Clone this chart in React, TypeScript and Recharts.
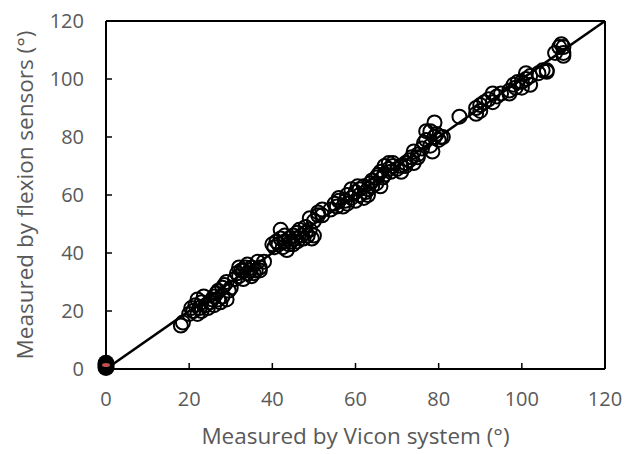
import React from 'react';
import { ScatterChart, Scatter, XAxis, YAxis, ReferenceLine } from 'recharts';

const axisTicks = [0, 20, 40, 60, 80, 100, 120];

const viconValues = [
  18, 18.5, 20, 20.5, 21, 21.5, 22, 22, 22.5, 23, 23, 23.5, 24, 24.5, 25, 25.5, 26, 26, 26.5, 27, 27, 27.5, 28, 28, 28.5, 29, 29, 29.5, 30,
  31, 31.5, 32, 32, 32.5, 33, 33, 33.5, 34, 34, 34.5, 35, 35, 35.5, 36, 36.5, 37, 37, 38,
  40, 40.5, 41, 41.5, 42, 42, 42.5, 43, 43, 43.5, 44, 44, 44.5, 45, 45, 45.5, 46, 46, 46.5, 47, 47.5, 48, 48, 48.5, 49, 49, 49.5, 50, 50, 51, 51, 52, 52,
  54, 55, 55.5, 56, 56, 57, 57.5, 58, 58, 59, 59, 60, 60, 60.5, 61, 61, 62, 62, 62.5, 63, 63, 63.5, 64, 64, 65, 65, 65.5, 66, 66, 66.5, 67, 67, 68, 68, 68.5, 69, 69, 70, 71, 71, 72, 72, 73, 73.5, 74, 74, 75, 75,
  76, 76.5, 77, 77, 78, 78, 78.5, 79, 79, 79.5, 80, 80.5, 81,
  85,
  89, 89, 90, 90, 91, 92, 93, 93, 94, 95,
  97, 97, 98, 98.5, 99, 100, 100, 101, 101, 102, 102,
  104, 105, 106, 106,
  108, 109, 109.5, 110, 110, 110,
];

const sensorValues = [
  15, 16, 19, 21, 20, 22, 19, 24, 21, 20, 23, 25, 22, 21, 23, 24, 22, 25, 26, 24, 27, 23, 25, 28, 29, 30, 24, 27, 28,
  31, 33, 32, 35, 34, 31, 34, 35, 33, 36, 34, 32, 35, 33, 34, 37, 35, 34, 37,
  43, 42, 44, 43, 48, 45, 42, 44, 46, 41, 43, 45, 44, 46, 43, 45, 47, 44, 48, 46, 45, 47, 49, 46, 48, 52, 45, 46, 51, 53, 54, 55, 53,
  55, 57, 56, 58, 59, 56, 58, 60, 57, 59, 62, 61, 58, 63, 60, 62, 59, 63, 61, 62, 60, 64, 63, 65, 66, 64, 67, 68, 63, 66, 70, 67, 71, 69, 68, 70, 71, 69, 70, 68, 71, 70, 72, 73, 71, 75, 74, 73,
  76, 78, 82, 79, 82, 77, 75, 80, 85, 81, 79, 80, 80,
  87,
  88, 90, 91, 89, 92, 93, 95, 92, 94, 95,
  95, 96, 98, 97, 99, 97, 99, 100, 102, 101, 98,
  102, 103, 103, 102.5,
  109, 111, 112, 111, 109, 108,
];

const zeroVicon = [0, 0, 0];
const zeroSensor = [0.5, 1.3, 2];
const meanVicon = [0];
const meanSensor = [1.4];
const identityX = [0, 120];

const points = viconValues.map((x, i) => ({ x, y: sensorValues[i] }));
const zeroPoints = zeroVicon.map((x, i) => ({ x, y: zeroSensor[i] }));
const meanPoints = meanVicon.map((x, i) => ({ x, y: meanSensor[i] }));

const FONT = "'Open Sans', sans-serif";
const GREY = '#595959';

const OpenCircle = (props: any) => (
  <circle cx={props.cx} cy={props.cy} r={7} fill="none" stroke="#000" strokeWidth={2} />
);
const FilledDot = (props: any) => (
  <circle cx={props.cx} cy={props.cy} r={8.5} fill="#000" stroke="none" />
);
const RedDash = (props: any) => (
  <ellipse cx={props.cx} cy={props.cy} rx={4} ry={2} fill="#c0504d" />
);

const XLabel = (props: any) => {
  const vb = props.viewBox;
  return (
    <text x={vb.x + vb.width / 2} y={444} textAnchor="middle" fill={GREY} fontSize={22.5} fontFamily={FONT}>
      Measured by Vicon system (°)
    </text>
  );
};

const YLabel = (props: any) => {
  const vb = props.viewBox;
  const cx = vb.x + 24;
  const cy = vb.y + vb.height / 2;
  return (
    <text x={cx} y={cy} transform={`rotate(-90 ${cx} ${cy})`} textAnchor="middle" dominantBaseline="central" fill={GREY} fontSize={22.5} fontFamily={FONT}>
      Measured by flexion sensors (°)
    </text>
  );
};

export default function App() {
  return (
    <div style={{ position: 'absolute', left: 0, top: 0, background: '#fff' }}>
      <ScatterChart width={637} height={454} margin={{ top: 21, right: 32, bottom: 0, left: 0 }}>
        <XAxis
          type="number"
          dataKey="x"
          domain={[0, 120]}
          ticks={axisTicks}
          height={85}
          axisLine={{ stroke: '#000', strokeWidth: 2 }}
          tickLine={{ stroke: '#000', strokeWidth: 1.5 }}
          tickSize={-6}
          tickMargin={29}
          tick={{ fill: GREY, fontSize: 20, fontFamily: FONT }}
          label={<XLabel />}
        />
        <YAxis
          type="number"
          dataKey="y"
          domain={[0, 120]}
          ticks={axisTicks}
          width={106}
          axisLine={{ stroke: '#000', strokeWidth: 2 }}
          tickLine={{ stroke: '#000', strokeWidth: 1.5 }}
          tickSize={-6}
          tickMargin={28}
          tick={{ fill: GREY, fontSize: 20, fontFamily: FONT }}
          label={<YLabel />}
        />
        <ReferenceLine y={120} stroke="#000" strokeWidth={2} />
        <ReferenceLine x={120} stroke="#000" strokeWidth={2} />
        <ReferenceLine
          segment={[{ x: identityX[0], y: identityX[0] }, { x: identityX[1], y: identityX[1] }]}
          stroke="#000"
          strokeWidth={2.5}
        />
        <Scatter data={points} shape={<OpenCircle />} isAnimationActive={false} />
        <Scatter data={zeroPoints} shape={<FilledDot />} isAnimationActive={false} />
        <Scatter data={meanPoints} shape={<RedDash />} isAnimationActive={false} />
      </ScatterChart>
    </div>
  );
}
